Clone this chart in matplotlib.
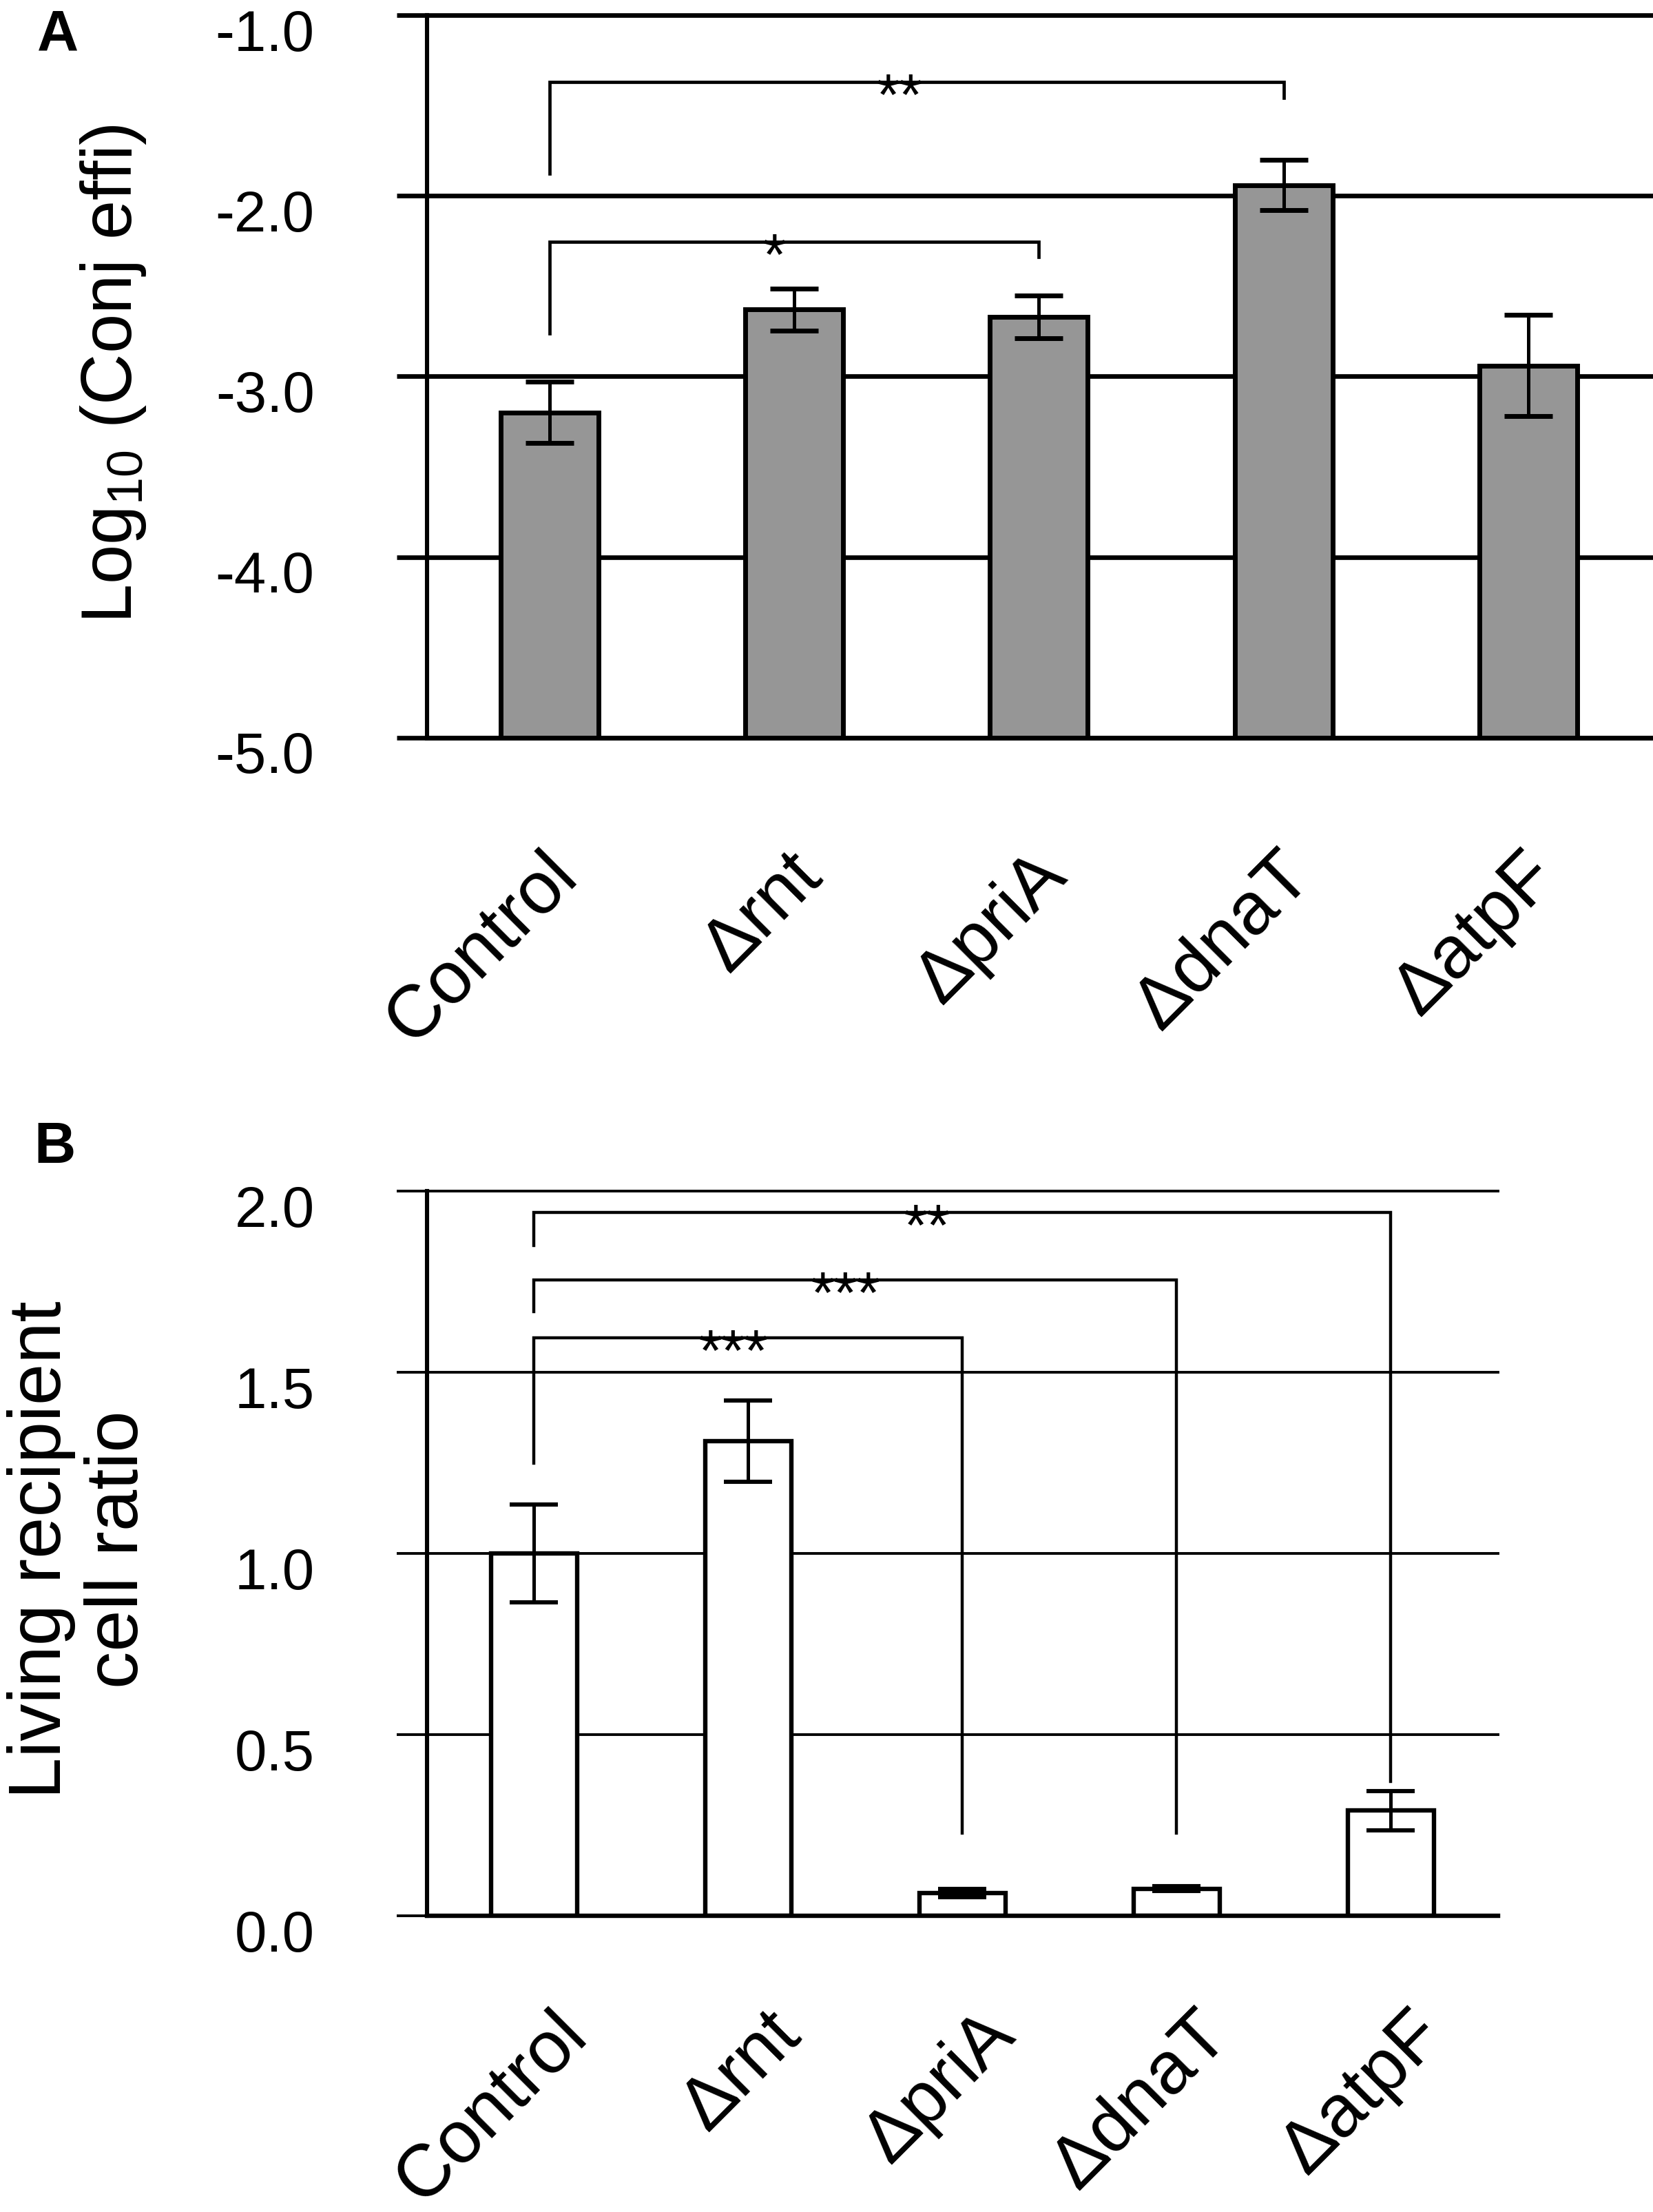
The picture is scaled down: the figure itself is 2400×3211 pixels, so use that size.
import matplotlib
matplotlib.use("Agg")
import matplotlib.pyplot as plt
from matplotlib.transforms import ScaledTranslation

plt.rcParams['font.family'] = ['Liberation Sans', 'DejaVu Sans']
plt.rcParams['mathtext.default'] = 'regular'

# data
strains = ['Control', 'Δrnt', 'ΔpriA', 'ΔdnaT', 'ΔatpF']

conj_log = [-3.20, -2.63, -2.67, -1.94, -2.94]
conj_err = [0.17, 0.115, 0.12, 0.14, 0.28]

living_ratio = [1.00, 1.31, 0.063, 0.075, 0.29]
living_err = [0.135, 0.113, 0.012, 0.006, 0.055]

# significance brackets (from Control to other strain)
brkA_to = [3, 2]
brkA_y = [-1.37, -2.255]
brkA_left_end = [-1.877, -2.76]
brkA_right_end = [-1.458, -2.338]
brkA_text = ['**', '*']
brkA_text_x = [1.43, 0.92]

brkB_to = [2, 3, 4]
brkB_y = [1.595, 1.755, 1.941]
brkB_left_end = [1.249, 1.668, 1.85]
brkB_right_end = [0.228, 0.228, 0.371]
brkB_text = ['***', '***', '**']
brkB_text_x = [0.93, 1.455, 1.835]

yticksA = [-5.0, -4.0, -3.0, -2.0, -1.0]
yticksB = [0.0, 0.5, 1.0, 1.5, 2.0]

fig = plt.figure(figsize=(12, 16.06), dpi=200)
axA = fig.add_axes([0.2583, 0.6663, 0.7404, 0.3265])
axB = fig.add_axes([0.2583, 0.13387, 0.6479, 0.3275])

x = list(range(len(strains)))


def style_axis(ax, yticks, grid_lw, bottom_lw, dx, pad):
    ax.set_xlim(-0.5, 4.5)
    ax.set_ylim(yticks[0], yticks[-1])
    ax.set_yticks(yticks)
    ax.set_yticklabels(['%.1f' % v for v in yticks], fontsize=30)
    ax.set_axisbelow(True)
    ax.yaxis.grid(True, color='black', lw=grid_lw)
    for gl in ax.get_ygridlines():
        gl.set_clip_on(False)
    for s in ['top', 'right']:
        ax.spines[s].set_visible(False)
    ax.spines['left'].set_linewidth(2.2)
    ax.spines['bottom'].set_linewidth(bottom_lw)
    ax.tick_params(axis='y', length=15.8, width=grid_lw, pad=43, direction='out')
    ax.tick_params(axis='x', length=0, pad=pad)
    # y labels sit a little below their gridline
    for lbl in ax.get_yticklabels():
        lbl.set_transform(lbl.get_transform() + ScaledTranslation(0, -0.1, fig.dpi_scale_trans))
    ax.set_xticks(x)
    ax.set_xticklabels(strains, fontsize=38.5, rotation=45, ha='right',
                       va='baseline', rotation_mode='anchor')
    for lbl in ax.get_xticklabels():
        lbl.set_transform(lbl.get_transform() + ScaledTranslation(dx, 0, fig.dpi_scale_trans))


def draw_brackets(ax, to, ys, lends, rends, texts, tx, lw):
    for j in range(len(to)):
        ax.plot([0, 0, to[j], to[j]], [lends[j], ys[j], ys[j], rends[j]],
                color='black', lw=lw, solid_joinstyle='miter', zorder=4)
        ax.annotate(texts[j], (tx[j], ys[j]), xytext=(0, -17), textcoords='offset points',
                    ha='center', va='baseline', fontsize=31, zorder=5)


# panel A
style_axis(axA, yticksA, 2.4, 2.4, 0.22, 73)
axA.bar(x, [v - yticksA[0] for v in conj_log], bottom=yticksA[0], width=0.4,
        color='#969696', edgecolor='black', linewidth=2.5, zorder=2)
axA.errorbar(x, conj_log, yerr=conj_err, fmt='none', ecolor='black',
             elinewidth=1.8, capsize=12.5, capthick=2.5, zorder=3)
draw_brackets(axA, brkA_to, brkA_y, brkA_left_end, brkA_right_end,
              brkA_text, brkA_text_x, 1.7)
axA.text(-0.2414, 0.505, 'Log$_{10}$ (Conj effi)', transform=axA.transAxes,
         rotation=90, rotation_mode='anchor', ha='center', va='baseline', fontsize=37)

# panel B
style_axis(axB, yticksB, 1.4, 2.3, 0.40, 63)
axB.bar(x, living_ratio, width=0.4, color='white', edgecolor='black',
        linewidth=2.3, zorder=2)
axB.errorbar(x, living_ratio, yerr=living_err, fmt='none', ecolor='black',
             elinewidth=1.8, capsize=12.5, capthick=2.2, zorder=3)
draw_brackets(axB, brkB_to, brkB_y, brkB_left_end, brkB_right_end,
              brkB_text, brkB_text_x, 1.6)
axB.text(-0.324, 0.506, 'Living recipient\ncell ratio', transform=axB.transAxes,
         rotation=90, ha='center', va='center', multialignment='center',
         linespacing=1.15, fontsize=39)

fig.text(0.035, 0.984, 'A', fontsize=30, fontweight='bold', ha='center', va='center')
fig.text(0.033, 0.4813, 'B', fontsize=30, fontweight='bold', ha='center', va='center')

fig.savefig('out.png', dpi=200)
